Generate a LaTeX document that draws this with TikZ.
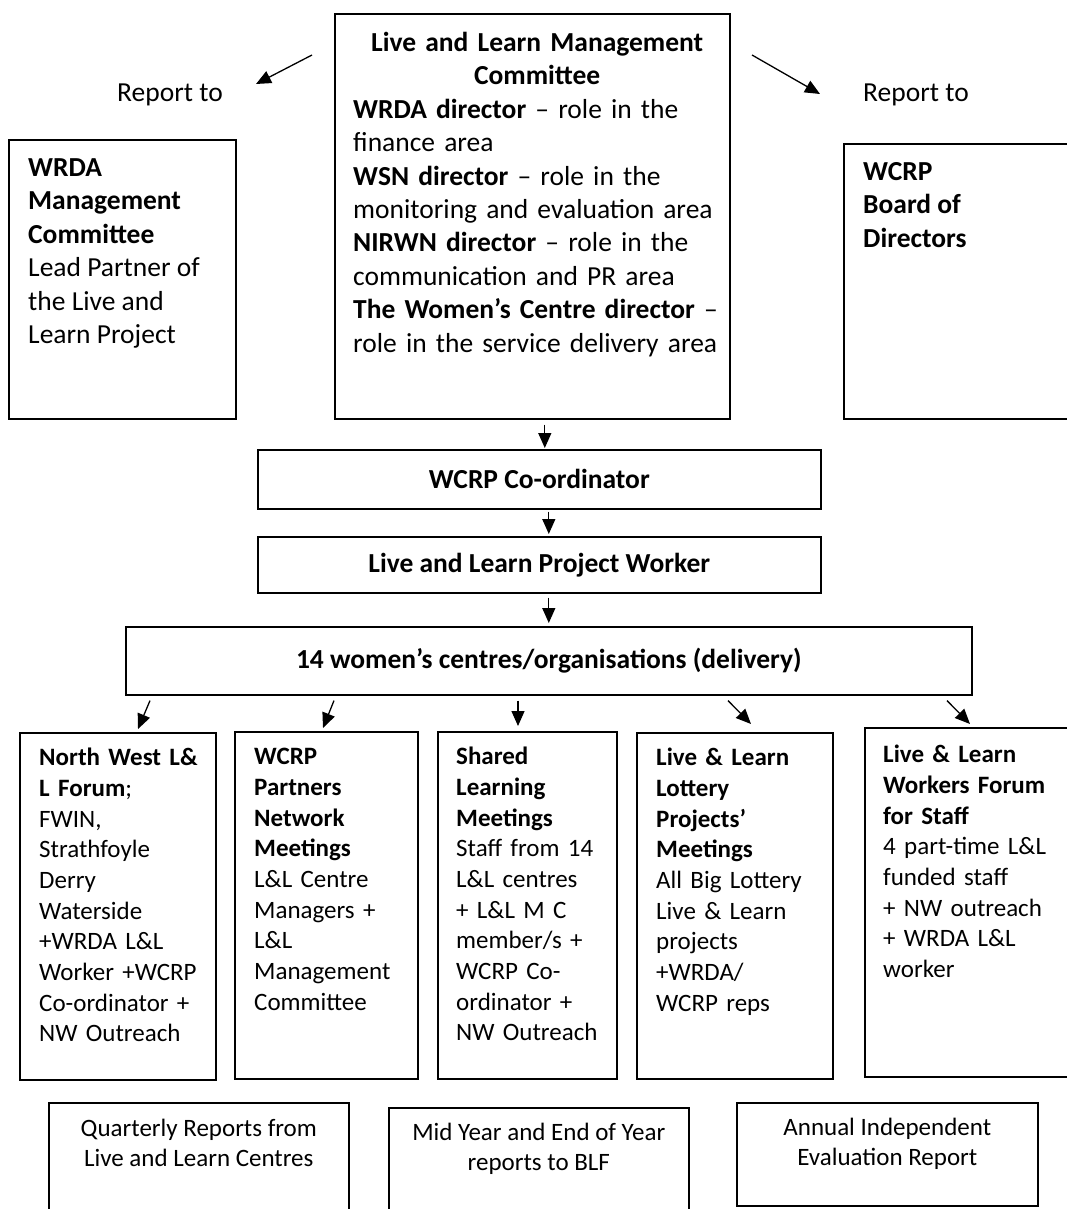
\documentclass[tikz,border=0pt]{standalone}
\usepackage{fontspec}
\setmainfont{Carlito}
\usetikzlibrary{calc,positioning,arrows.meta}

\begin{document}
\begin{tikzpicture}[x=1pt, y=-1pt,
	box/.style={draw, line width=1.6pt, inner sep=0pt, anchor=north west},
	txtbig/.style={anchor=north west, inner sep=0pt, align=left, font=\fontsize{27.5}{33.4}\selectfont},
	txtsmall/.style={anchor=north west, inner sep=0pt, align=left, text width=225pt, font=\fontsize{25}{30.7}\selectfont},
	txtreport/.style={anchor=north, inner sep=0pt, align=center, font=\fontsize{25}{29.5}\selectfont},
	flow/.style={-{Triangle[length=15pt,width=13pt]}, line width=1.3pt}]

	% ---- page

	\useasboundingbox (0,0) rectangle (1067,1209);

	% ---- top row

	\node[box, minimum width=395pt, minimum height=405pt] (llmc) at (334,13) {};
	\node[box, minimum width=227pt, minimum height=279pt] (wrda) at (8,139) {};
	\node[box, minimum width=240pt, minimum height=275pt] (board) at (843,143) {};

	\node[txtbig, text width=368pt] (llmctext) at ($(llmc.north west)+(19,15)$) {%
		\centering\strut\textbf{Live and Learn Management\\Committee}\par
		\raggedright
		\textbf{WRDA director} – role in the\\
		finance area\\
		\textbf{WSN director} – role in the\\
		monitoring and evaluation area\\
		\textbf{NIRWN director} – role in the\\
		communication and PR area\\
		\textbf{The Women’s Centre director} –\\
		role in the service delivery area};

	\node[txtbig] (wrdatext) at ($(wrda.north west)+(20,14)$) {%
		\strut\textbf{WRDA}\\
		\textbf{Management}\\
		\textbf{Committee}\\
		Lead Partner of\\
		the Live and\\
		Learn Project};

	\node[txtbig] (boardtext) at ($(board.north west)+(20,14)$) {%
		\strut\textbf{WCRP}\\
		\textbf{Board of}\\
		\textbf{Directors}};

	\node[txtbig, anchor=base west] (reportl) at (117,102) {Report to};
	\node[txtbig, anchor=base west] (reportr) at (863,102) {Report to};

	% ---- chain

	\node[box, minimum width=563pt, minimum height=59pt, font=\fontsize{27.5}{33.4}\selectfont\bfseries]
		(coord) at (257,449) {WCRP Co-ordinator};
	\node[box, minimum width=563pt, minimum height=56pt, font=\fontsize{27.5}{33.4}\selectfont\bfseries]
		(worker) at (257,536) {Live and Learn Project Worker};
	\node[box, minimum width=846pt, minimum height=68pt, font=\fontsize{27.5}{33.4}\selectfont\bfseries]
		(centres) at (125,626) {14 women’s centres/organisations (delivery)};

	% ---- meetings

	\node[box, minimum width=196pt, minimum height=347pt] (forum) at (19,732) {};
	\node[box, minimum width=183pt, minimum height=347pt] (partners) at (234,731) {};
	\node[box, minimum width=179pt, minimum height=347pt] (shared) at (437,731) {};
	\node[box, minimum width=196pt, minimum height=346pt] (lottery) at (636,732) {};
	\node[box, minimum width=220pt, minimum height=349pt] (staff) at (864,727) {};

	\node[txtsmall] (forumtext) at ($(forum.north west)+(20,12)$) {%
		\strut\textbf{North West L\&}\\
		\textbf{L Forum};\\
		FWIN,\\
		Strathfoyle\\
		Derry\\
		Waterside\\
		+WRDA L\&L\\
		Worker +WCRP\\
		Co-ordinator +\\
		NW Outreach};

	\node[txtsmall] (partnerstext) at ($(partners.north west)+(20,12)$) {%
		\strut\textbf{WCRP}\\
		\textbf{Partners}\\
		\textbf{Network}\\
		\textbf{Meetings}\\
		L\&L Centre\\
		Managers +\\
		L\&L\\
		Management\\
		Committee};

	\node[txtsmall] (sharedtext) at ($(shared.north west)+(19,12)$) {%
		\strut\textbf{Shared}\\
		\textbf{Learning}\\
		\textbf{Meetings}\\
		Staff from 14\\
		L\&L centres\\
		+ L\&L M C\\
		member/s +\\
		WCRP Co-\\
		ordinator +\\
		NW Outreach};

	\node[txtsmall] (lotterytext) at ($(lottery.north west)+(20,12)$) {%
		\strut\textbf{Live \& Learn}\\
		\textbf{Lottery}\\
		\textbf{Projects’}\\
		\textbf{Meetings}\\
		All Big Lottery\\
		Live \& Learn\\
		projects\\
		+WRDA/\\
		WCRP reps};

	\node[txtsmall] (stafftext) at ($(staff.north west)+(19,14)$) {%
		\strut\textbf{Live \& Learn}\\
		\textbf{Workers Forum}\\
		\textbf{for Staff}\\
		4 part-time L\&L\\
		funded staff\\
		+ NW outreach\\
		+ WRDA L\&L\\
		worker};

	% ---- reports

	\node[box, minimum width=300pt, minimum height=130pt] (quarterly) at (48,1102) {};
	\node[box, minimum width=300pt, minimum height=130pt] (midyear) at (388,1107) {};
	\node[box, minimum width=301pt, minimum height=103pt] (annual) at (736,1102) {};

	\node[txtreport] (quarterlytext) at ($(quarterly.north)+(0,14)$)
		{\strut Quarterly Reports from\\Live and Learn Centres};
	\node[txtreport] (midyeartext) at ($(midyear.north)+(0,13)$)
		{\strut Mid Year and End of Year\\reports to BLF};
	\node[txtreport] (annualtext) at ($(annual.north)+(0,13)$)
		{\strut Annual Independent\\Evaluation Report};

	% ---- arrows

	\coordinate (ls) at (312,55);
	\coordinate (le) at (256,84);
	\coordinate (rs) at (752,55);
	\coordinate (re) at (820,94);

	\draw[flow] (ls) -- (le);
	\draw[flow] (rs) -- (re);

	\draw[flow] ($(llmc.south)+(12.5,5)$) -- ($(coord.north)+(5.5,-1)$);
	\draw[flow] ($(coord.south)+(9.5,2)$) -- ($(worker.north)+(9.5,-2)$);
	\draw[flow] ($(worker.south)+(9.5,4)$) -- ($(centres.north)+(0,-3)$);

	\draw[flow] ($(centres.south west)+(25,5)$) -- ($(forum.north west)+(119,-3)$);
	\draw[flow] ($(centres.south west)+(209,5)$) -- ($(partners.north west)+(89,-3)$);
	\draw[flow] ($(centres.south west)+(393,5)$) -- ($(shared.north west)+(81,-5)$);
	\draw[flow] ($(centres.south west)+(603,5)$) -- ($(lottery.north west)+(115,-8)$);
	\draw[flow] ($(centres.south west)+(822,5)$) -- ($(staff.north west)+(106,-3)$);

\end{tikzpicture}
\end{document}
